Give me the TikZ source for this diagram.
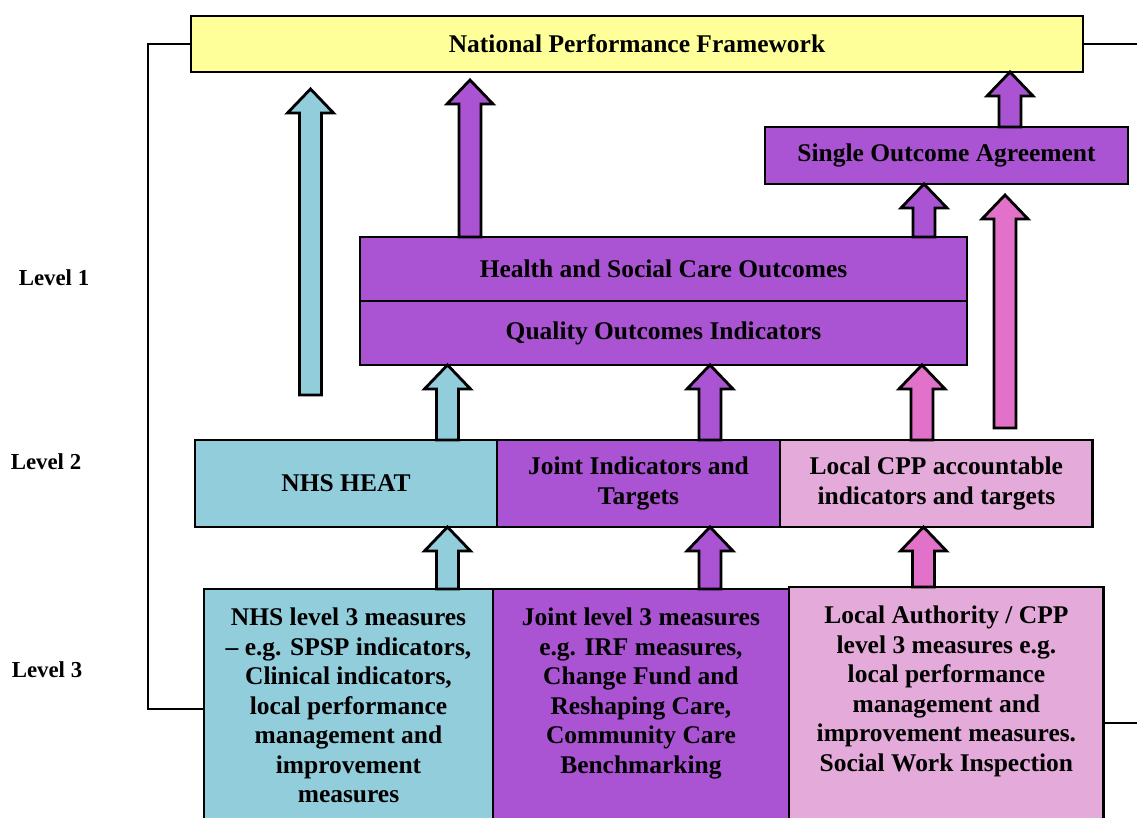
\documentclass[tikz,border=0pt]{standalone}
\usepackage{fontspec}
\setmainfont{Liberation Serif}
\usepackage{xcolor}
\definecolor{npfyellow}{HTML}{FFFF99}
\definecolor{nhsblue}{HTML}{92CDDC}
\definecolor{jointpurple}{HTML}{AB54D3}
\definecolor{cpppink}{HTML}{E4AAD9}
\definecolor{arrowpink}{HTML}{E271CA}
\usepackage{tikz}
\usetikzlibrary{positioning,calc}

% block arrow pointing up: colour, foot, tip
\newcommand\uparrowblk[3]{%
  \filldraw[fill=#1, draw=black, line width=1.6pt]
    let \p1=#2, \p2=#3 in
    ({\x1-2.2mm},\y1) -- ({\x1-2.2mm},{\y2-4.8mm}) -- ({\x1-4.6mm},{\y2-4.8mm})
    -- (\x1,\y2) -- ({\x1+4.6mm},{\y2-4.8mm}) -- ({\x1+2.2mm},{\y2-4.8mm})
    -- ({\x1+2.2mm},\y1) -- cycle;}

\begin{document}
\begin{tikzpicture}[x=0.02cm, y=-0.02cm,
    every node/.style={font=\bfseries\fontsize{14.5}{16.8}\selectfont, text=black},
    tierbox/.style={draw=black, line width=1.6pt, inner sep=0pt, outer sep=0pt, align=center},
    measbox/.style={draw=black, line width=1.6pt, inner xsep=0pt, inner ysep=0.38cm, outer sep=0pt, anchor=north},
    lvllabel/.style={font=\bfseries\fontsize{13}{15}\selectfont}]
    \clip (0,0) rectangle (1137,818);

    % top of the framework
    \node[tierbox, fill=npfyellow, minimum width=17.84cm, minimum height=1.12cm] (npf) at (637,44)
      {National Performance Framework};
    \node[tierbox, fill=jointpurple, minimum width=7.26cm, minimum height=1.14cm] (soa) at (946.5,155.5)
      {Single Outcome Agreement};
    \node[tierbox, fill=jointpurple, minimum width=12.14cm, minimum height=1.28cm] (hsc) at (663.5,269)
      {Health and Social Care Outcomes};
    \node[tierbox, fill=jointpurple, minimum width=12.14cm, minimum height=1.28cm, below=0pt of hsc] (qoi)
      {Quality Outcomes Indicators};

    % level 2
    \node[tierbox, fill=nhsblue, minimum width=6.04cm, minimum height=1.74cm] (heat) at (346,483.5) {NHS HEAT};
    \node[tierbox, fill=jointpurple, minimum width=5.66cm, minimum height=1.74cm, right=0pt of heat] (jind)
      {Joint Indicators and\\Targets};
    \node[tierbox, fill=cpppink, minimum width=6.26cm, minimum height=1.74cm, right=0pt of jind] (cpp)
      {Local CPP accountable\\indicators and targets};

    % level 3
    \node[measbox, fill=nhsblue] (nhs3) at (348.5,589)
      {\parbox[t][4.04cm][t]{5.78cm}{\centering NHS level 3 measures\\ -- e.g. SPSP indicators,\\
       Clinical indicators,\\ local performance\\ management and\\ improvement\\ measures}};
    \node[measbox, fill=jointpurple, anchor=north west] (joint3) at (nhs3.north east)
      {\parbox[t][4.04cm][t]{5.92cm}{\centering Joint level 3 measures\\ e.g. IRF measures,\\
       Change Fund and\\ Reshaping Care,\\ Community Care\\ Benchmarking}};
    \node[measbox, fill=cpppink, anchor=north west] (la) at ([yshift=0.04cm]joint3.north east)
      {\parbox[t][4.68cm][t]{6.3cm}{\centering Local Authority / CPP\\ level 3 measures e.g.\\
       local performance\\ management and\\ improvement measures.\\ Social Work Inspection}};

    % level labels
    \node[lvllabel] (lvl1) at (54,278) {Level 1};
    \node[lvllabel] (lvl2) at (46,462) {Level 2};
    \node[lvllabel] (lvl3) at (47,670) {Level 3};

    % side lines
    \coordinate (edgeR) at (1137,0);
    \draw[line width=1.6pt] (npf.west) -- (148,0 |- npf.west) -- (148,0 |- nhs3.west) -- (nhs3.west);
    \draw[line width=1.6pt] (npf.east) -- (npf.east -| edgeR);
    \draw[line width=1.6pt] (la.east) -- (la.east -| edgeR);

    % arrows between tiers
    \coordinate (blueFoot) at (310.5,395);
    \coordinate (blueTip) at (310.5,89);
    \coordinate (pinkFoot) at (1005,428);
    \coordinate (pinkTip) at (1005,195);
    \uparrowblk{nhsblue}{(blueFoot)}{(blueTip)}
    \uparrowblk{arrowpink}{(pinkFoot)}{(pinkTip)}
    \uparrowblk{jointpurple}{(470,0 |- hsc.north)}{(470,80)}
    \foreach \ax/\lo/\hi/\col in {1010/soa.north/npf.south/jointpurple,
        924/hsc.north/soa.south/jointpurple,
        447.5/heat.north/qoi.south/nhsblue,
        710/jind.north/qoi.south/jointpurple,
        922/cpp.north/qoi.south/arrowpink,
        447.5/nhs3.north/heat.south/nhsblue,
        710/joint3.north/jind.south/jointpurple,
        923.5/la.north/cpp.south/arrowpink} {
      \uparrowblk{\col}{(\ax,0 |- \lo)}{(\ax,0 |- \hi)}
    }
  \end{tikzpicture}
\end{document}
